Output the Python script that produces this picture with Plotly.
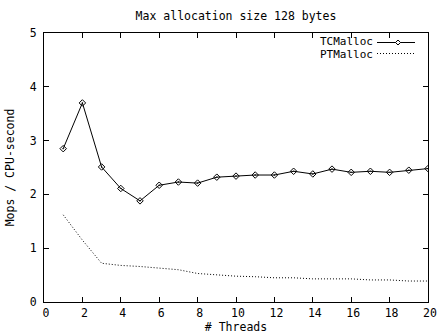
import plotly.graph_objects as go

# Benchmark results: throughput vs. thread count
threads = list(range(1, 21))
tcmalloc = [2.85, 3.70, 2.51, 2.11, 1.88, 2.17, 2.23, 2.21, 2.32, 2.34,
            2.36, 2.36, 2.43, 2.38, 2.47, 2.41, 2.43, 2.41, 2.45, 2.48]
ptmalloc = [1.62, 1.15, 0.72, 0.68, 0.66, 0.63, 0.60, 0.53, 0.50, 0.48,
            0.47, 0.45, 0.45, 0.43, 0.43, 0.43, 0.41, 0.41, 0.39, 0.39]

x_ticks = list(range(0, 21, 2))
y_ticks = [0, 1, 2, 3, 4, 5]

FONT = "DejaVu Sans Mono"
FS = 11.5
W, H = 448, 336
L, R, T, B = 44, 20, 33, 34

fig = go.Figure()
fig.add_trace(go.Scatter(
    x=threads, y=tcmalloc, name="TCMalloc", mode="lines+markers",
    line=dict(color="black", width=1),
    marker=dict(symbol="diamond-open-dot", size=5, color="black",
                line=dict(width=1, color="black")),
))
fig.add_trace(go.Scatter(
    x=threads, y=ptmalloc, name="PTMalloc", mode="lines",
    line=dict(color="black", width=1, dash="1px,2px"),
))

axis_common = dict(
    showline=True, linecolor="black", linewidth=1, mirror="allticks",
    ticks="inside", ticklen=5, tickcolor="black", tickwidth=1,
    showgrid=False, zeroline=False, automargin=False,
    tickfont=dict(family=FONT, size=FS, color="black"),
)
fig.update_xaxes(range=[0, 20], tickvals=x_ticks, ticklabelstandoff=0, ticklabelshift=2,
                 title=dict(text="# Threads", font=dict(family=FONT, size=FS, color="black"), standoff=2),
                 **axis_common)
fig.update_yaxes(range=[0, 5], tickvals=y_ticks, ticklabelstandoff=4,
                 title=dict(text="Mops / CPU-second", font=dict(family=FONT, size=FS, color="black"), standoff=12),
                 **axis_common)

# Legend drawn gnuplot-style: label on the left, sample on the right
def px_x(p):
    return (p - L) / (W - L - R)

def px_y(p):
    return 1 - (p - T) / (H - T - B)

legend_rows = [("TCMalloc", 41.5), ("PTMalloc", 54.5)]
for text, yp in legend_rows:
    fig.add_annotation(text=text, xref="paper", yref="paper",
                       x=px_x(374), y=px_y(yp), xanchor="right", yanchor="middle",
                       showarrow=False, borderpad=0,
                       font=dict(family=FONT, size=11, color="black"))
fig.add_shape(type="line", xref="paper", yref="paper",
              x0=px_x(377), x1=px_x(415), y0=px_y(42.5), y1=px_y(42.5),
              line=dict(color="black", width=1))
fig.add_shape(type="path", xref="paper", yref="paper",
              path=f"M {px_x(395.5)} {px_y(42.5)} L {px_x(398)} {px_y(40)} L {px_x(400.5)} {px_y(42.5)} L {px_x(398)} {px_y(45)} Z",
              line=dict(color="black", width=1), fillcolor="white")
fig.add_shape(type="line", xref="paper", yref="paper",
              x0=px_x(377), x1=px_x(414), y0=px_y(53.5), y1=px_y(53.5),
              line=dict(color="black", width=1, dash="1px,2px"))

fig.update_layout(
    width=W, height=H,
    margin=dict(l=L, r=R, t=T, b=B),
    paper_bgcolor="white", plot_bgcolor="white",
    showlegend=False,
    title=dict(text="Max allocation size 128 bytes", x=0.5, xref="paper",
               y=1 - 16 / H, yref="container", yanchor="middle",
               font=dict(family=FONT, size=FS, color="black")),
    font=dict(family=FONT, size=FS, color="black"),
)

fig.write_html("out.html")
